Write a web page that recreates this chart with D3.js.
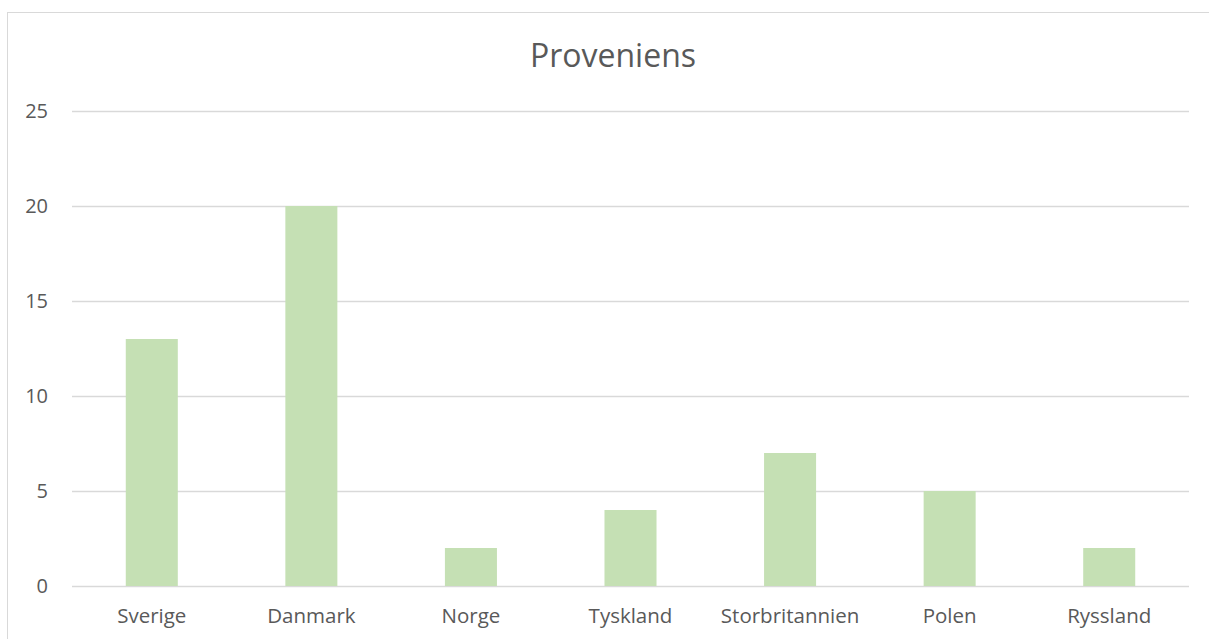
<!DOCTYPE html>
<html>
<head>
  <meta charset="utf-8">
  <title>Proveniens</title>
  <script src="https://cdn.jsdelivr.net/npm/d3@7"></script>
  <style>
    body { margin: 0; background: #fff; }
    text { font-family: "Open Sans", "Noto Sans", sans-serif; fill: #595959; }
  </style>
</head>
<body>
  <div id="chart"></div>
  <script>
    // data
    var countries = ["Sverige", "Danmark", "Norge", "Tyskland", "Storbritannien", "Polen", "Ryssland"];
    var counts = [13, 20, 2, 4, 7, 5, 2];
    var yTicks = [0, 5, 10, 15, 20, 25];

    var width = 1209, height = 639;
    var margin = { top: 111, right: 20, bottom: 53, left: 72 };
    var plotW = 1189 - margin.left,
      plotH = 586 - margin.top;

    var svg = d3.select("#chart").append("svg")
      .attr("width", width)
      .attr("height", height);

    // chart border
    svg.append("rect")
      .attr("x", 7.5).attr("y", 12.5)
      .attr("width", width + 10).attr("height", height)
      .attr("fill", "none")
      .attr("stroke", "#d9d9d9")
      .attr("stroke-width", 1);

    svg.append("text")
      .attr("x", 613)
      .attr("y", 67)
      .attr("text-anchor", "middle")
      .style("font-size", "32px")
      .text("Proveniens");

    var g = svg.append("g").attr("transform", "translate(" + margin.left + "," + margin.top + ")");

    var x = d3.scaleBand()
      .domain(countries)
      .range([0, plotW])
      .paddingInner(0.674)
      .paddingOuter(0.337);

    var y = d3.scaleLinear()
      .domain([0, 25])
      .range([plotH, 0]);

    // gridlines
    g.append("g")
      .selectAll("line")
      .data(yTicks)
      .enter().append("line")
      .attr("x1", 0)
      .attr("x2", plotW)
      .attr("y1", function (d) { return Math.round(y(d)) + 0.5; })
      .attr("y2", function (d) { return Math.round(y(d)) + 0.5; })
      .attr("stroke", "#d9d9d9")
      .attr("stroke-width", 1.3);

    // y labels
    g.append("g")
      .selectAll("text")
      .data(yTicks)
      .enter().append("text")
      .attr("x", -24)
      .attr("y", function (d) { return y(d); })
      .attr("dy", "0.36em")
      .attr("text-anchor", "end")
      .style("font-size", "20px")
      .text(function (d) { return d; });

    // bars
    g.append("g")
      .selectAll("rect")
      .data(counts)
      .enter().append("rect")
      .attr("x", function (d, i) { return x(countries[i]); })
      .attr("width", x.bandwidth())
      .attr("y", function (d) { return y(d); })
      .attr("height", function (d) { return plotH - y(d); })
      .attr("fill", "#c5e0b4");

    // x labels
    g.append("g")
      .selectAll("text")
      .data(countries)
      .enter().append("text")
      .attr("x", function (d) { return x(d) + x.bandwidth() / 2; })
      .attr("y", plotH + 37)
      .attr("text-anchor", "middle")
      .style("font-size", "20.5px")
      .text(function (d) { return d; });
  </script>
</body>
</html>
